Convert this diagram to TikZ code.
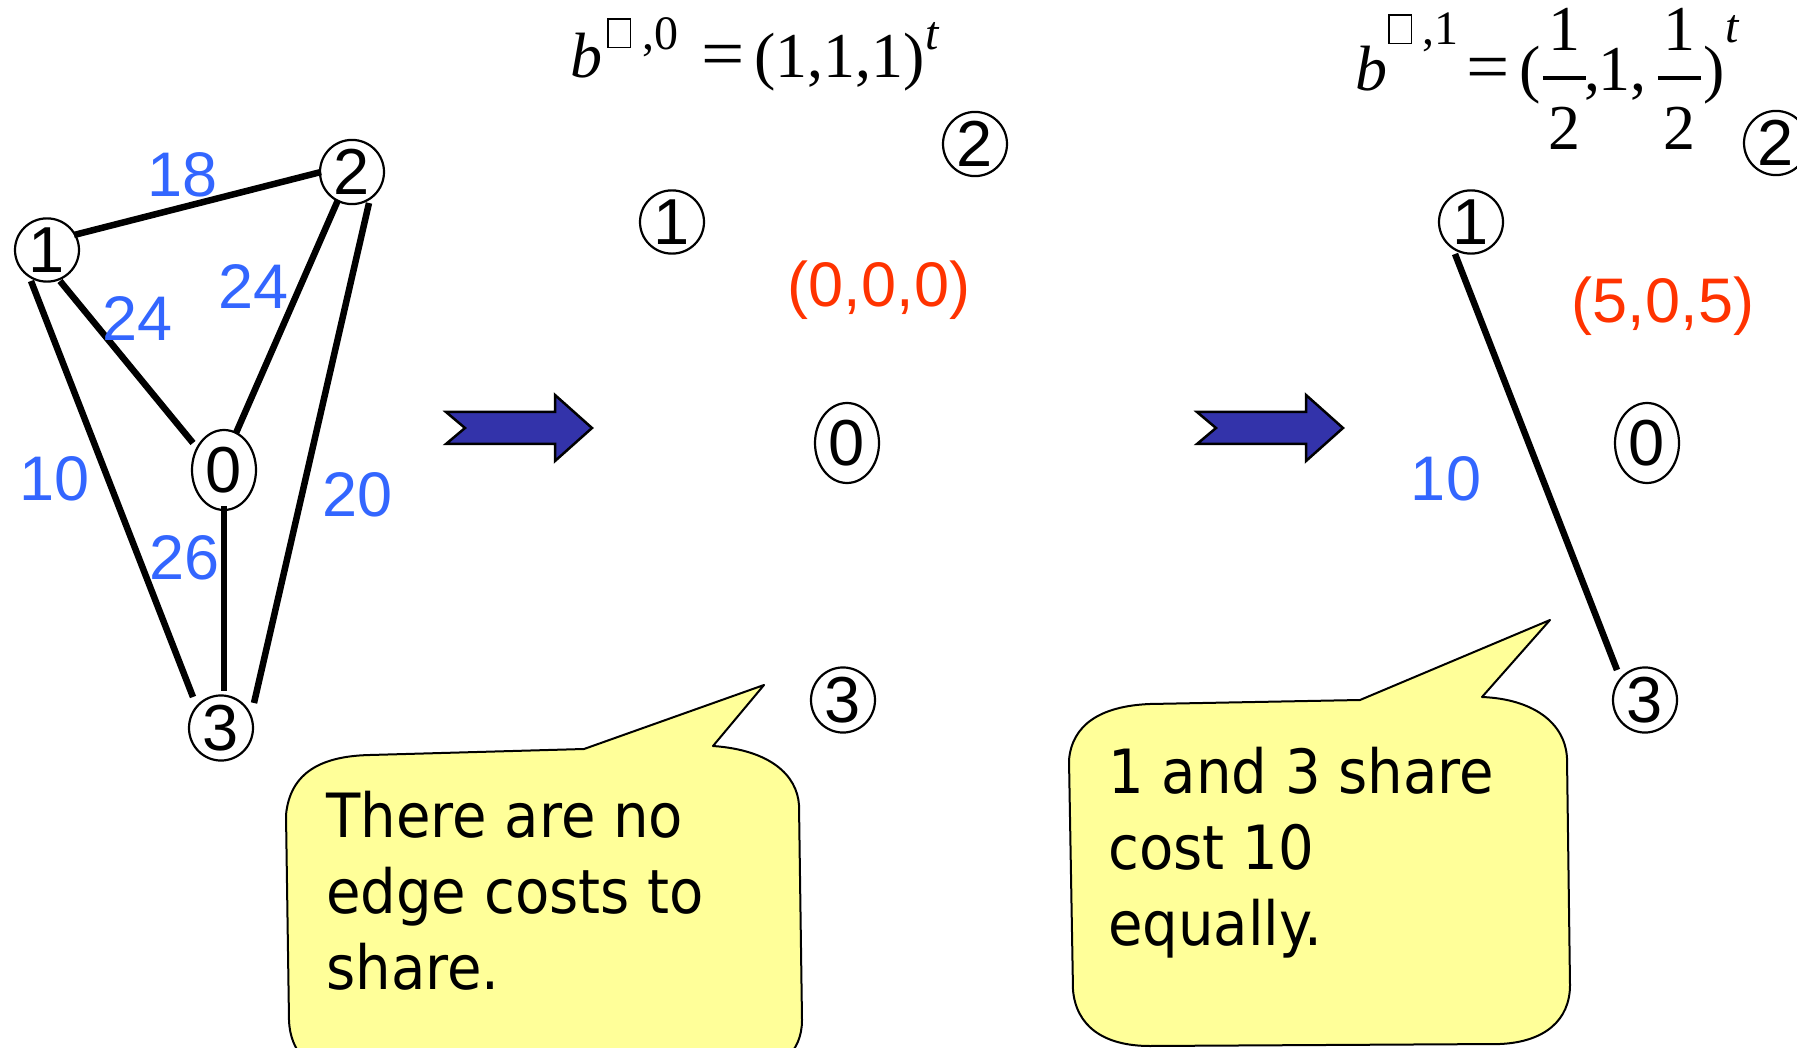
\documentclass[tikz,border=0pt]{standalone}
\usepackage{graphicx}
\usepackage{fontspec}
\setmainfont{Liberation Sans}
\newfontfamily\tnr{Liberation Serif}
\newfontfamily\callfont[FakeStretch=0.92]{DejaVu Sans}
\usetikzlibrary{shapes.geometric}
\definecolor{lblblue}{RGB}{51,102,255}
\definecolor{vecred}{RGB}{255,51,0}
\definecolor{callyellow}{RGB}{255,255,153}
\definecolor{arrowblue}{RGB}{51,51,170}
\newcommand\tinybox{{\setlength\fboxsep{0pt}\setlength\fboxrule{1.3pt}\fbox{\rule{0pt}{27.4pt}\rule{21.4pt}{0pt}}}}
\newcommand\halfpart{\raisebox{-59pt}{\vbox{\offinterlineskip\hbox to 43pt{\hss 1\hss}\kern25pt\hbox{\rule{43pt}{4pt}}\kern28pt\hbox to 43pt{\hss 2\hss}}}}
\newcommand\supsz{\fontsize{48}{48}\selectfont}
\newcommand\wideeq{\scalebox{1.2}[1.1]{=}}
\begin{document}
\begin{tikzpicture}[x=1pt,y=-1pt,
  vtx/.style={ellipse, draw, line width=2.2pt, minimum width=64pt, minimum height=61pt, inner sep=0pt, font=\fontsize{65}{65}\selectfont},
  vtxtall/.style={vtx, minimum height=80pt},
  edgeline/.style={line width=6.5pt},
  cost/.style={text=lblblue, font=\fontsize{63}{63}\selectfont, inner sep=0pt},
  vec/.style={text=vecred, font=\fontsize{63}{63}\selectfont, inner sep=0pt},
  bubble/.style={draw, line width=2pt, fill=callyellow, line join=round},
  bigarrow/.style={draw, line width=2.5pt, fill=arrowblue, line join=miter},
  calltext/.style={font=\callfont\fontsize{61}{76}\selectfont, align=left, inner sep=0pt, anchor=north west},
  formula/.style={font=\tnr\fontsize{64}{64}\selectfont, inner sep=0pt, anchor=base west}]
\useasboundingbox (0,0) rectangle (1797,1048);
\clip (0,0) rectangle (1797,1048);
\fill[white] (0,0) rectangle (1797,1048);

% ---- left graph ----
\node[vtx] (a1) at (47,250) {1};
\node[vtx] (a2) at (352,172) {2};
\node[vtxtall] (a0) at (224,470) {0};
\node[vtx] (a3) at (221,728) {3};
\draw[edgeline] ([shift={(27,-15)}]a1.center) -- ([shift={(-31,0)}]a2.center);
\draw[edgeline] ([shift={(-16,31)}]a1.center) -- ([shift={(-28,-31)}]a3.center);
\draw[edgeline] ([shift={(13,31)}]a1.center) -- ([shift={(-31,-27)}]a0.center);
\draw[edgeline] ([shift={(-14,28)}]a2.center) -- ([shift={(12,-37)}]a0.center);
\draw[edgeline] ([shift={(17,31)}]a2.center) -- ([shift={(33,-25)}]a3.center);
\draw[edgeline] ([shift={(0,36)}]a0.center) -- ([shift={(3,-37)}]a3.center);
\node[cost] (c18) at (183,175) {18};
\node[cost] (c24a) at (138,319) {24};
\node[cost] (c24b) at (254,287) {24};
\node[cost] (c10) at (55,479) {10};
\node[cost] (c26) at (185,558) {26};
\node[cost] (c20) at (358,495) {20};

% ---- arrows ----
\path[bigarrow] (446,412) -- (465,428) -- (446,444) -- (555,444) -- (555,461) -- (592,428) -- (555,395) -- (555,412) -- cycle;
\path[bigarrow] (1197,412) -- (1216,428) -- (1197,444) -- (1306,444) -- (1306,461) -- (1343,428) -- (1306,395) -- (1306,412) -- cycle;

% ---- middle ----
\node[formula] (f0) at (570,78) {\textit{b}\hspace{5pt}\raisebox{31pt}{\tinybox}\hspace{11pt}\raisebox{28pt}{\supsz,0}\hspace{23pt}\wideeq\hspace{10pt}(1,1,1)\raisebox{28pt}{\supsz\textit{t}}};
\node[vtx] (b1) at (672,222) {1};
\node[vtx] (b2) at (975,144) {2};
\node[vtxtall] (b0) at (847,443) {0};
\node[vtx] (b3) at (843,700) {3};
\node[vec] (v0) at (879,290) {(0,0,0)};

% ---- right ----
\node[formula] (f1) at (1355,91) {\textit{b}\hspace{1pt}\raisebox{48pt}{\tinybox}\hspace{10pt}\raisebox{46pt}{\supsz,1}\hspace{8pt}\wideeq\hspace{10pt}(\hspace{2pt}\halfpart\hspace{-1pt},\hspace{-2pt}1,\hspace{11pt}\halfpart\hspace{3pt})\raisebox{48pt}{\supsz\textit{t}}};
\node[vtx] (r1) at (1471,222) {1};
\node[vtx] (r2) at (1776,143) {2};
\node[vtxtall] (r0) at (1647,443) {0};
\node[vtx] (r3) at (1645,700) {3};
\draw[edgeline] ([shift={(-16,32)}]r1.center) -- ([shift={(-28,-30)}]r3.center);
\node[cost] (r10) at (1446,479) {10};
\node[vec] (v1) at (1663,306) {(5,0,5)};

% ---- callouts ----
\path[bubble] (286,815) .. controls (290,772) and (322,756) .. (370,755) -- (584,749) -- (764,685) -- (713,746) .. controls (770,750) and (797,775) .. (799,805) -- (802,1020) .. controls (802,1052) and (780,1072) .. (740,1076) -- (350,1078) .. controls (310,1074) and (290,1052) .. (289,1020) -- cycle;
\node[calltext] (t1) at (326,791) {There are no\\edge costs to\\share.};
\path[bubble] (1069,760) .. controls (1072,725) and (1100,706) .. (1150,704) -- (1360,700) -- (1550,620) -- (1482,697) .. controls (1532,699) and (1565,722) .. (1567,758) -- (1570,985) .. controls (1570,1020) and (1545,1042) .. (1500,1044) -- (1150,1046) .. controls (1102,1046) and (1076,1025) .. (1073,990) -- cycle;
\node[calltext] (t2) at (1108,747) {1 and 3 share\\cost 10\\equally.};
\end{tikzpicture}
\end{document}
